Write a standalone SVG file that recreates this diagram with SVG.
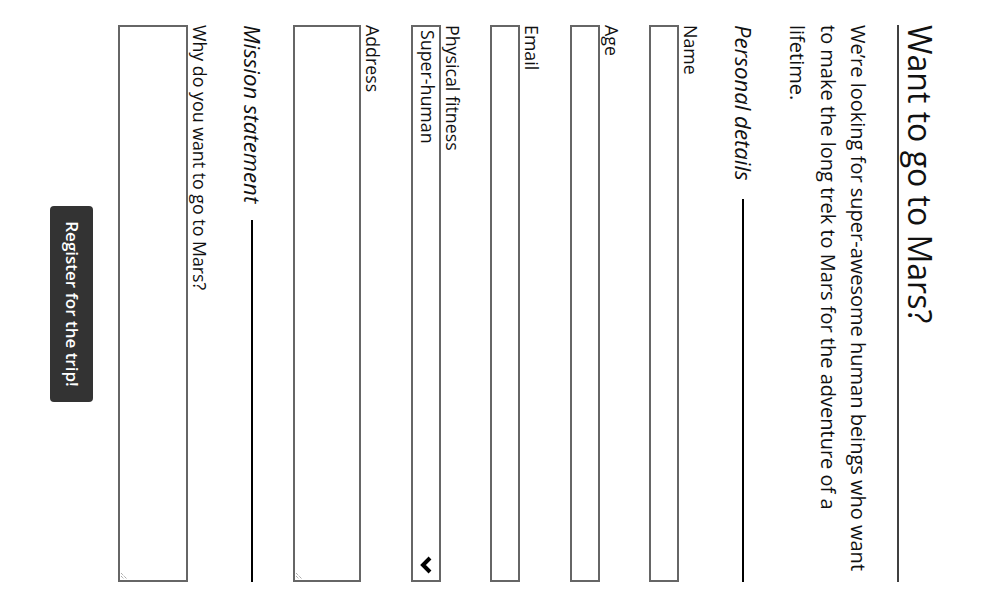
<svg xmlns="http://www.w3.org/2000/svg" width="991" height="608" viewBox="0 0 991 608">
<style>
text{font-family:"Open Sans","Liberation Sans",sans-serif;fill:#111}
.h1{font-size:32px}
.p{font-size:20px}
.lg{font-size:22.2px;font-style:italic}
.lb{font-size:17.8px}
.box{fill:#fff;stroke:#666;stroke-width:2}
.rule{stroke:#000;stroke-width:2}
.btn{fill:#333}
.btnt{font-size:17px;font-weight:600;fill:#fff}
.grip{stroke:#888;stroke-width:1;stroke-dasharray:1 1}
</style>
<rect width="991" height="608" fill="#fff"/>
<g transform="translate(991,0) rotate(90)">
<g id="title">
<text class="h1" x="25" y="83">Want to go to Mars?</text>
<line x1="25" y1="93" x2="582" y2="93" stroke="#000" stroke-width="1.5"/>
</g>
<g id="intro">
<text class="p" x="25" y="140">We’re looking for super-awesome human beings who want</text>
<text class="p" x="25" y="170.5">to make the long trek to Mars for the adventure of a</text>
<text class="p" x="25" y="201">lifetime.</text>
</g>
<g id="personal-legend">
<text class="lg" x="25" y="256">Personal details</text>
<line class="rule" x1="199" y1="248" x2="582" y2="248"/>
</g>
<g id="name-field">
<text class="lb" x="25" y="307.5">Name</text>
<rect class="box" x="26" y="313" width="555" height="28"/>
</g>
<g id="age-field">
<text class="lb" x="25" y="386.5">Age</text>
<rect class="box" x="26" y="392" width="555" height="28"/>
</g>
<g id="email-field">
<text class="lb" x="25" y="466.5">Email</text>
<rect class="box" x="26" y="472" width="555" height="28"/>
</g>
<g id="fitness-field">
<text class="lb" x="25" y="545.5">Physical fitness</text>
<rect class="box" x="26" y="551" width="555" height="28"/>
<text class="lb" x="30" y="570">Super-human</text>
<polyline points="558,561 565,568 572,561" fill="none" stroke="#000" stroke-width="4"/>
</g>
<g id="address-field">
<text class="lb" x="25" y="625.5">Address</text>
<rect class="box" x="26" y="631" width="555" height="66"/>
<line class="grip" x1="573" y1="695" x2="579" y2="689"/>
<line class="grip" x1="576" y1="695" x2="579" y2="692"/>
</g>
<g id="mission-legend">
<text class="lg" x="25" y="747.5">Mission statement</text>
<line class="rule" x1="220" y1="739" x2="582" y2="739"/>
</g>
<g id="why-field">
<text class="lb" x="25" y="798.5">Why do you want to go to Mars?</text>
<rect class="box" x="26" y="804" width="555" height="68"/>
<line class="grip" x1="573" y1="870" x2="579" y2="864"/>
<line class="grip" x1="576" y1="870" x2="579" y2="867"/>
</g>
<g id="submit-button">
<rect class="btn" x="206" y="898" width="196" height="43" rx="4"/>
<text class="btnt" x="304" y="925" text-anchor="middle">Register for the trip!</text>
</g>
<g id="connectors"/>
</g>
</svg>
